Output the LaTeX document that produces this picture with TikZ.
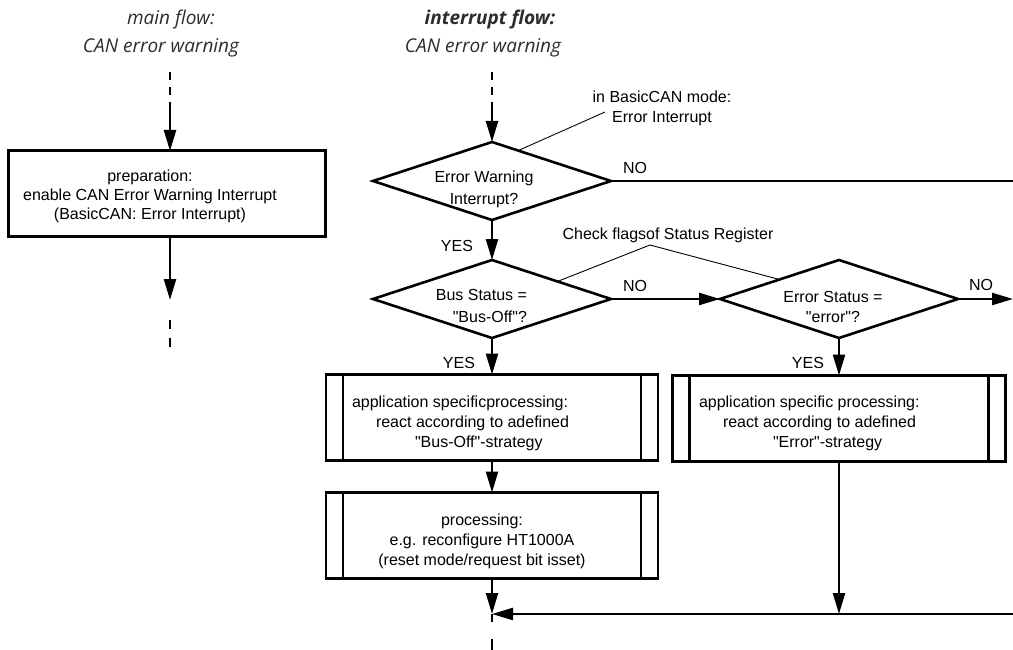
\documentclass[tikz,border=0pt]{standalone}
\usepackage{fontspec}
\setmainfont{Liberation Sans}[Ligatures=TeXOff]
\newfontfamily\titlefont{Open Sans}
\usetikzlibrary{arrows.meta,shapes.geometric,calc}
\definecolor{titlegray}{RGB}{45,45,45}

\begin{document}
\begin{tikzpicture}[x=1pt,y=-1pt,
  every node/.style={font=\fontsize{16}{20}\selectfont, inner sep=0pt, outer sep=0pt},
  title/.style={font=\titlefont\itshape\fontsize{19}{22}\selectfont, text=titlegray},
  flow/.style={line width=2.4pt},
  arr/.style={flow, -{Triangle[length=21pt,width=12pt]}},
  dashpat/.style={flow, dash pattern=on 8pt off 7pt},
  note/.style={line width=0.9pt},
  decision/.style={draw, diamond, line width=2.6pt, minimum width=238pt, minimum height=78pt},
  prepbox/.style={draw, rectangle, line width=3pt, minimum width=317pt, minimum height=86pt},
  procbox/.style={draw, rectangle, line width=2.2pt, minimum width=332pt, minimum height=86pt,
    path picture={\draw[line width=2.2pt]
      ([xshift=17pt]path picture bounding box.north west) -- ([xshift=17pt]path picture bounding box.south west)
      ([xshift=-17pt]path picture bounding box.north east) -- ([xshift=-17pt]path picture bounding box.south east);}},
]
\useasboundingbox (0,0) rectangle (1013,650);

% ---------- main flow ----------
\node[title] (mtitle1) at (171,20) {main flow:};
\node[title] (mtitle2) at (161,48) {CAN error warning};

\node[prepbox] (prep) at (166.5,194) {};
\node[align=center, font=\fontsize{16}{19}\selectfont] (preptext) at (150,196)
  {preparation:\\enable CAN Error Warning Interrupt\\(BasicCAN: Error Interrupt)};

\coordinate (mtop) at (170,72);
\coordinate (mbrk) at (170,106);
\coordinate (mout) at (170,300);
\coordinate (mdashA) at (170,320);
\coordinate (mdashB) at (170,347);
\draw[dashpat] (mtop) -- (mbrk);
\draw[arr] (mbrk) -- (mbrk |- prep.north);
\draw[arr] (mout |- prep.south) -- (mout);
\draw[flow, dash pattern=on 9pt off 9pt] (mdashA) -- (mdashB);

% ---------- interrupt flow ----------
\node[title, font=\titlefont\bfseries\itshape\fontsize{19}{22}\selectfont] (ititle1) at (490,20) {interrupt flow:};
\node[title] (ititle2) at (483,48) {CAN error warning};

\node[decision] (d1) at (492,181) {};
\node[align=center, font=\fontsize{16}{22}\selectfont] (d1text) at (484,189) {Error Warning\\Interrupt?};

\node[decision] (d2) at (492,299) {};
\node[align=right, anchor=east, font=\fontsize{16}{22}\selectfont] (d2text) at (527,306) {Bus Status =\\"Bus-Off"?};

\node[decision] (d3) at (839,299) {};
\node[align=center, font=\fontsize{16}{20}\selectfont] (d3text) at (833,307) {Error Status =\\"error"?};

\node[procbox] (busoff) at (492,417.5) {};
\node[align=left, anchor=west] (busofftext) at (352,423)
  {application specificprocessing:\\\hspace*{24pt}react according to adefined\\\hspace*{63pt}"Bus-Off"-strategy};

\node[procbox] (proc) at (492,535.5) {};
\node[align=center] (proctext) at (482,541)
  {processing:\\e.g. reconfigure HT1000A\\(reset mode/request bit isset)};

\node[procbox, minimum width=333pt] (errbox) at (839,418.5) {};
\node[align=left, anchor=west] (errtext) at (699,423)
  {application specific processing:\\\hspace*{24pt}react according to adefined\\\hspace*{74pt}"Error"-strategy};

% annotations
\node[align=center] (note1) at (662,108) {in BasicCAN mode:\\Error Interrupt};
\node (note2) at (668,235) {Check flagsof Status Register};
\coordinate (note1end) at (605,112);
\coordinate (apex) at (650,245);
\draw[note] ($(d1.north)!0.22!(d1.east)$) -- (note1end);
\draw[note] ($(d2.north)!0.55!(d2.east)$) -- (apex) -- ($(d3.west)!0.5!(d3.north)$);

% branch labels
\node (yes1) at (457,246) {YES};
\node (yes2) at (459,363) {YES};
\node (yes3) at (808,363) {YES};
\node (no1) at (635,168) {NO};
\node (no2) at (635,286) {NO};
\node (no3) at (981,285) {NO};

% connectors
\coordinate (itop) at (492,72);
\coordinate (ibrk) at (492,102);
\coordinate (edge1) at (1013,181);
\coordinate (edge2) at (1013,299);
\coordinate (edge3) at (1013,614);
\coordinate (join) at (492,614);
\coordinate (ejoin) at (839,614);
\coordinate (jend) at (492,622);
\coordinate (exitA) at (492,639);
\coordinate (exitB) at (492,650);

\draw[dashpat] (itop) -- (ibrk);
\draw[arr] (ibrk) -- (d1.north);
\draw[flow] (d1.east) -- (edge1);
\draw[arr] (d1.south) -- (d2.north);
\draw[arr] (d2.east) -- (d3.west);
\draw[arr] (d3.east) -- (edge2);
\draw[arr] (d2.south) -- (busoff.north);
\draw[arr] (d3.south) -- (errbox.north);
\draw[arr] (busoff.south) -- (proc.north);
\draw[arr] (proc.south) -- (join);
\draw[arr] (errbox.south) -- (ejoin);
\draw[arr] (edge3) -- (join);
\draw[flow] (join) -- (jend);
\draw[flow] (exitA) -- (exitB);
\end{tikzpicture}
\end{document}
